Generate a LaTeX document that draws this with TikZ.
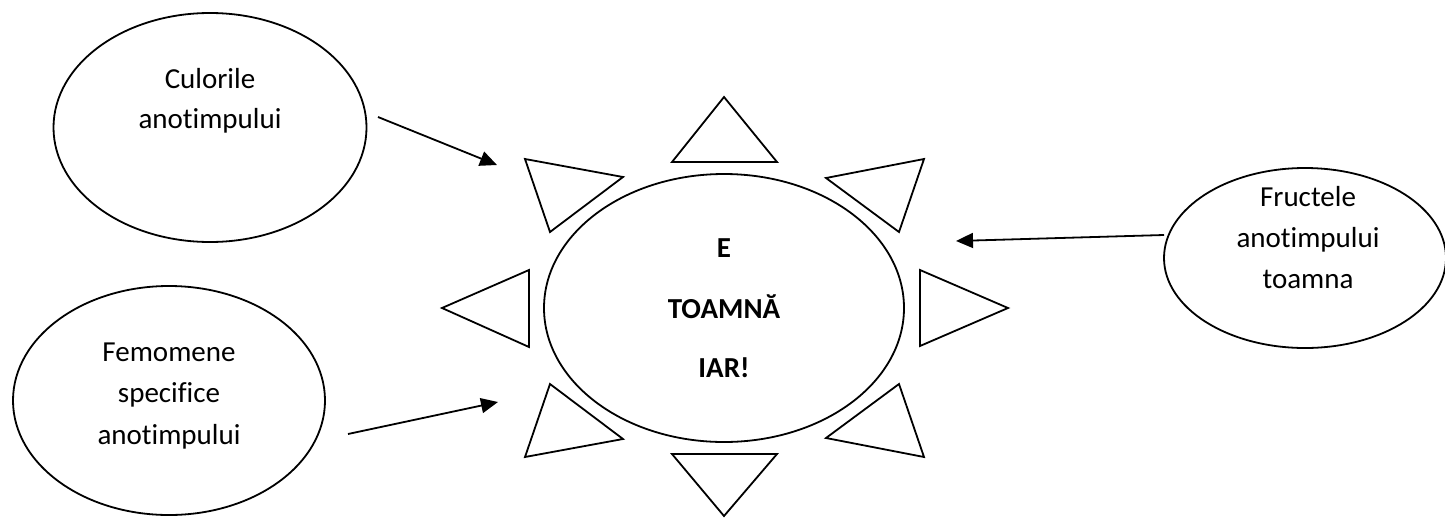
\documentclass[tikz,border=0pt]{standalone}
\usepackage{fontspec}
\setmainfont{Carlito}[Ligatures=NoCommon]
\usetikzlibrary{shapes.geometric,arrows.meta}
\tikzset{
	bubble/.style={draw,ellipse,line width=1.8pt,inner sep=0pt},
	ray/.style={draw,line width=1.8pt,line join=miter},
	word/.style={anchor=base,inner sep=0pt,font=\fontsize{29}{35}\selectfont},
	bigword/.style={word,font=\fontsize{29}{35}\selectfont\bfseries},
	pointer/.style={line width=1.8pt,-{Triangle[length=17pt,width=15pt]}}
}
\begin{document}
\begin{tikzpicture}[x=1pt,y=-1pt]
	\useasboundingbox (0,0) rectangle (1445,517);
	% ellipses
	\node[bubble,minimum width=313pt,minimum height=229pt] (colors) at (210,127.5) {};
	\node[bubble,minimum width=312pt,minimum height=229pt] (events) at (169,400.5) {};
	\node[bubble,minimum width=282pt,minimum height=180pt] (fruits) at (1305,258) {};
	\node[bubble,minimum width=360pt,minimum height=268pt] (autumn) at (724,308) {};
	% rays of the sun
	\draw[ray] (724,97) -- (672,162) -- (777,162) -- cycle;
	\draw[ray] (826,178) -- (924,159) -- (899,232) -- cycle;
	\draw[ray] (920,270) -- (1008,308) -- (920,346) -- cycle;
	\draw[ray] (899,384) -- (826,438) -- (924,457) -- cycle;
	\draw[ray] (672,454) -- (777,454) -- (724,516) -- cycle;
	\draw[ray] (550,384) -- (623,439) -- (525,457) -- cycle;
	\draw[ray] (442,308) -- (529,270) -- (529,347) -- cycle;
	\draw[ray] (525,159) -- (623,177) -- (550,232) -- cycle;
	% texts
	\node[word] (colors1) at (210,88)  {Culorile};
	\node[word] (colors2) at (210,128) {anot\kern0pt impului};
	\node[word] (events1) at (169,361) {Femomene};
	\node[word] (events2) at (169,402) {specif\kern0pt ice};
	\node[word] (events3) at (169,444) {anot\kern0pt impului};
	\node[word] (fruits1) at (1308,206) {Fructele};
	\node[word] (fruits2) at (1308,247) {anot\kern0pt impului};
	\node[word] (fruits3) at (1308,288) {toamna};
	\node[bigword] (autumn1) at (724,257) {E};
	\node[bigword] (autumn2) at (724,318) {TOAMNĂ};
	\node[bigword] (autumn3) at (724,377) {IAR!};
	% arrows
	\coordinate (colors out) at (378,117);
	\coordinate (colors in) at (497,165);
	\coordinate (events out) at (348,434);
	\coordinate (events in) at (498,402);
	\coordinate (fruits out) at (1164,235);
	\coordinate (fruits in) at (956,241);
	\draw[pointer] (colors out) -- (colors in);
	\draw[pointer] (events out) -- (events in);
	\draw[pointer] (fruits out) -- (fruits in);
\end{tikzpicture}
\end{document}
